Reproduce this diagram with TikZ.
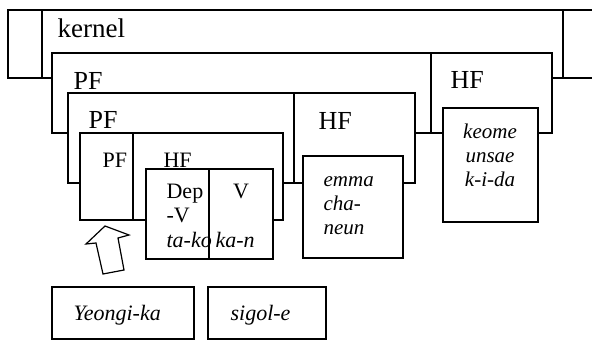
\documentclass[tikz,border=0pt]{standalone}
\usepackage{fontspec}
\setmainfont{Liberation Serif}

\begin{document}
\begin{tikzpicture}[x=1pt,y=-1pt,line width=1.2pt]
    \tikzstyle{frame}=[draw=black,fill=white,line width=1.2pt]
    \tikzstyle{big}=[inner sep=0pt,anchor=base west,font=\fontsize{26}{26}\selectfont]
    \tikzstyle{small}=[inner sep=0pt,anchor=base west,font=\fontsize{22}{22}\selectfont]
    \tikzstyle{word}=[inner sep=0pt,anchor=base west,font=\fontsize{21}{21}\selectfont\itshape]
    \useasboundingbox (0,0) rectangle (592,340);

    % kernel
    \draw (592,10) -- (8,10) -- (8,78) -- (592,78);
    \draw (42,10) -- (42,78);
    \draw (563,10) -- (563,78);
    \node[big,font=\fontsize{27}{27}\selectfont] (kernel) at (57,37) {kernel};

    % second level
    \draw[frame] (52,53) rectangle (552,133);
    \draw (431,53) -- (431,133);
    \node[big] (pf-2) at (73,89) {PF};
    \node[big] (hf-2) at (450,88) {HF};

    % third level
    \draw[frame] (68,93) rectangle (415,183);
    \draw (294,93) -- (294,183);
    \node[big] (pf-3) at (88,128) {PF};
    \node[big] (hf-3) at (318,129) {HF};

    % fourth level
    \draw[frame] (80,133) rectangle (283,220);
    \draw (133,133) -- (133,220);
    \node[small] (pf-4) at (102,167) {PF};
    \node[small] (hf-4) at (163,167) {HF};

    % Dep-V and V
    \draw[frame] (146,169) rectangle (273,259);
    \draw (209,169) -- (209,259);
    \node[small] (dep-1) at (166,198) {Dep};
    \node[small] (dep-2) at (166,222) {-V};
    \node[word,font=\fontsize{22}{22}\selectfont\itshape] (dep-3) at (166,247) {ta-ko};
    \node[small,anchor=base] (v-1) at (241,198) {V};
    \node[word,font=\fontsize{22}{22}\selectfont\itshape] (v-2) at (215,247) {ka-n};

    % words
    \draw[frame] (303,156) rectangle (403,258);
    \foreach \w/\y [count=\i] in {emma/186, cha-/210, neun/234}
        \node[word] (emma-\i) at (323,\y) {\w};

    \draw[frame] (443,108) rectangle (538,222);
    \foreach \w/\y [count=\i] in {keome/138, unsae/162, k-i-da/186}
        \node[word,anchor=base] (keome-\i) at (490,\y) {\w};

    \draw[frame] (52,287) rectangle (194,339);
    \node[word,font=\fontsize{22}{22}\selectfont\itshape] (yeongi) at (73,320) {Yeongi-ka};
    \draw[frame] (208,287) rectangle (326,339);
    \node[word,font=\fontsize{22}{22}\selectfont\itshape] (sigol) at (230,320) {sigol-e};

    % block arrow
    \draw[frame] (105,226) -- (129,235) -- (118,238) -- (124,270)
        -- (103,274) -- (96,243) -- (86,244) -- cycle;
\end{tikzpicture}
\end{document}
